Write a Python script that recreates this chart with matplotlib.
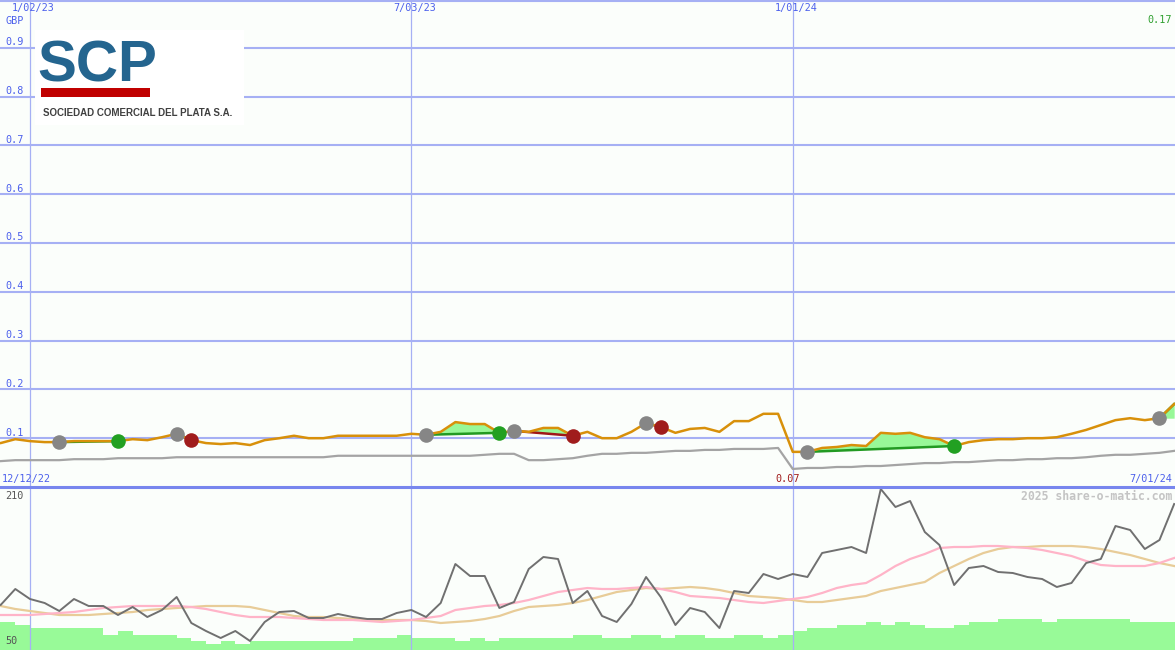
import matplotlib
matplotlib.use("Agg")
import matplotlib.pyplot as plt
import matplotlib.dates as mdates
from matplotlib.patches import Rectangle
from matplotlib.lines import Line2D
import numpy as np
import pandas as pd

W, H = 1175, 650

# weekly data, 12/12/22 .. 7/01/24
weeks = pd.date_range("2022-12-12", periods=82, freq="7D")

price = [0.090, 0.090, 0.098, 0.094, 0.092, 0.092, 0.094, 0.094, 0.094, 0.094,
         0.098, 0.096, 0.102, 0.109, 0.096, 0.090, 0.088, 0.090, 0.086, 0.096,
         0.100, 0.105, 0.100, 0.100, 0.105, 0.105, 0.105, 0.105, 0.105, 0.109,
         0.107, 0.113, 0.133, 0.129, 0.129, 0.111, 0.115, 0.113, 0.121, 0.121,
         0.105, 0.113, 0.100, 0.100, 0.113, 0.131, 0.123, 0.111, 0.119, 0.121,
         0.113, 0.135, 0.135, 0.150, 0.150, 0.072, 0.072, 0.080, 0.082, 0.086,
         0.084, 0.111, 0.109, 0.111, 0.102, 0.098, 0.084, 0.092, 0.096, 0.098,
         0.098, 0.100, 0.100, 0.102, 0.109, 0.117, 0.127, 0.137, 0.141, 0.137,
         0.141, 0.170]

avg = [0.051, 0.053, 0.055, 0.055, 0.055, 0.055, 0.057, 0.057, 0.057, 0.059,
       0.059, 0.059, 0.059, 0.061, 0.061, 0.061, 0.061, 0.061, 0.061, 0.061,
       0.061, 0.061, 0.061, 0.061, 0.064, 0.064, 0.064, 0.064, 0.064, 0.064,
       0.064, 0.064, 0.064, 0.064, 0.066, 0.068, 0.068, 0.055, 0.055, 0.057,
       0.059, 0.064, 0.068, 0.068, 0.070, 0.070, 0.072, 0.074, 0.074, 0.076,
       0.076, 0.078, 0.078, 0.078, 0.080, 0.037, 0.039, 0.039, 0.041, 0.041,
       0.043, 0.043, 0.045, 0.047, 0.049, 0.049, 0.051, 0.051, 0.053, 0.055,
       0.055, 0.057, 0.057, 0.059, 0.059, 0.061, 0.064, 0.066, 0.066, 0.068,
       0.070, 0.074]

osc = [99, 94, 110, 100, 96, 88, 100, 93, 93, 84, 92, 82, 89, 102, 76, 68, 61,
       68, 58, 77, 87, 88, 81, 81, 85, 82, 80, 80, 86, 89, 82, 96, 135, 123,
       123, 91, 97, 130, 142, 140, 96, 108, 83, 77, 95, 122, 102, 74, 91, 87,
       71, 108, 106, 125, 120, 125, 122, 146, 149, 152, 146, 210, 192, 198, 167,
       154, 114, 131, 133, 127, 126, 122, 120, 112, 116, 136, 140, 173, 169,
       150, 159, 195]

osc_fast = [84, 84, 84, 84, 85, 86, 87, 89, 91, 92, 93, 93, 93, 93, 92, 90, 87,
            84, 82, 82, 82, 81, 80, 79, 79, 79, 78, 77, 78, 79, 81, 83, 89, 91,
            93, 94, 96, 99, 103, 107, 109, 111, 110, 110, 111, 112, 110, 107,
            103, 102, 101, 99, 97, 96, 98, 100, 102, 106, 111, 114, 116, 124,
            133, 140, 145, 151, 152, 152, 153, 153, 152, 151, 149, 146, 143,
            138, 134, 133, 133, 133, 136, 141]

osc_slow = [96, 93, 90, 88, 86, 84, 84, 84, 85, 86, 87, 89, 90, 91, 92, 93, 93,
            93, 92, 89, 86, 83, 82, 82, 81, 80, 79, 79, 79, 79, 78, 76, 77, 78,
            80, 83, 88, 92, 93, 94, 96, 99, 103, 107, 109, 111, 110, 111, 112,
            111, 109, 106, 103, 102, 101, 99, 97, 97, 99, 101, 103, 108, 111,
            114, 117, 126, 133, 140, 146, 150, 152, 152, 153, 153, 153, 152, 150,
            147, 144, 140, 136, 133]

volume = [28, 28, 25, 22, 22, 22, 22, 22, 15, 19, 15, 15, 15, 12, 9, 6, 9, 6,
          9, 9, 9, 9, 9, 9, 9, 12, 12, 12, 15, 12, 12, 12, 9, 12, 9, 12, 12, 12,
          12, 12, 15, 15, 12, 12, 15, 15, 12, 15, 15, 12, 12, 15, 15, 12, 15, 19,
          22, 22, 25, 25, 28, 25, 28, 25, 22, 22, 25, 28, 28, 31, 31, 31, 28, 31,
          31, 31, 31, 31, 28, 28, 28, 28]

trade_entry = ["2023-01-16", "2023-03-13", "2023-07-10", "2023-08-21",
               "2023-10-23", "2024-01-08", "2024-06-24"]
trade_exit = ["2023-02-13", "2023-03-20", "2023-08-14", "2023-09-18",
              "2023-10-30", "2024-03-18", None]

grid_dates = ["2023-01-02", "2023-07-03", "2024-01-01"]
grid_labels = ["1/02/23", "7/03/23", "1/01/24"]

BG = "#fbfefb"
GRID = "#a6b0f4"
BLUE = "#4c60ec"
MONO = "DejaVu Sans Mono"


def fx(x):
    return x / W


def fy(y):
    return 1 - y / H


x = mdates.date2num(weeks.to_pydatetime())
p = np.array(price)
x0 = mdates.date2num(pd.Timestamp("2023-01-02"))
xlim = (x0 - 14.3, x0 + 546.4)

fig = plt.figure(figsize=(W / 100, H / 100), dpi=100, facecolor=BG)
ax = fig.add_axes([0, fy(487), 1, 487 / H])
axb = fig.add_axes([0, 0, 1, 163 / H])
for a in (ax, axb):
    a.set_axis_off()
    a.set_xlim(*xlim)
ax.set_ylim(0, 487 / 488)
axb.set_ylim(49, 212)

# price panel grid
for v in np.arange(0.1, 0.95, 0.1):
    ax.axhline(v, color=GRID, lw=1.5, zorder=1)
    ax.text(fx(5), v + 5.5 / 488, "%.1f" % v, transform=ax.get_yaxis_transform(),
            color=BLUE, fontsize=7.3, family=MONO, va="center", ha="left")
for d in grid_dates:
    ax.axvline(mdates.date2num(pd.Timestamp(d)), color=GRID, lw=0.9, zorder=1)
    axb.axvline(mdates.date2num(pd.Timestamp(d)), color=GRID, lw=0.9, zorder=1)

ax.plot(x, avg, color="#a4a4a4", lw=1.6, zorder=3)

# trades
for e, ex in zip(trade_entry, trade_exit):
    i0 = weeks.get_loc(pd.Timestamp(e))
    i1 = len(weeks) - 1 if ex is None else weeks.get_loc(pd.Timestamp(ex))
    xs = x[i0:i1 + 1]
    ps = p[i0:i1 + 1]
    if ex is None:
        ref = np.full(len(xs), p[i0])
    else:
        ref = np.interp(xs, [xs[0], xs[-1]], [p[i0], p[i1]])
    ax.fill_between(xs, ps, ref, where=ps >= ref, interpolate=True,
                    color="#98f898", lw=0, zorder=2)
    ax.fill_between(xs, ps, ref, where=ps < ref, interpolate=True,
                    color="#ffb8c8", lw=0, zorder=2)
    win = p[i1] >= p[i0]
    ax.plot([xs[0], xs[-1]], [p[i0], p[i1]],
            color="#229a22" if win else "#a01818", lw=1.8, zorder=4)
    ax.plot(xs[0], p[i0], "o", color="#868686", ms=10.5, mew=0, zorder=6)
    if ex is not None:
        ax.plot(xs[-1], p[i1], "o", color="#22a022" if win else "#a01c1c",
                ms=10.5, mew=0, zorder=6)

ax.plot(x, price, color="#d8900a", lw=1.8, zorder=5)

# lower panel
axv = axb.twinx()
axv.set_axis_off()
axv.set_ylim(0, 163)
axv.bar(x, volume, width=7, align="edge", color="#98fa98", lw=0, zorder=1)
axv.set_zorder(axb.get_zorder() - 1)
axb.patch.set_visible(False)
axb.plot(x, osc_slow, color="#e8cc98", lw=1.6, zorder=3)
axb.plot(x, osc_fast, color="#ffb4c8", lw=1.6, zorder=3)
axb.plot(x, osc, color="#707070", lw=1.4, zorder=4)

# frame lines
fig.add_artist(Line2D([0, 1], [fy(0.5), fy(0.5)], transform=fig.transFigure,
                      color=GRID, lw=1.5))
fig.add_artist(Line2D([0, 1], [fy(487), fy(487)], transform=fig.transFigure,
                      color="#7886ee", lw=2.2))

# labels
txt = dict(family=MONO, fontsize=7.3, va="center")
fig.text(fx(5), fy(21), "GBP", color=BLUE, ha="left", **txt)
for d, lab in zip(grid_dates, grid_labels):
    xd = (mdates.date2num(pd.Timestamp(d)) - xlim[0]) / (xlim[1] - xlim[0])
    fig.text(xd + fx(3), fy(8), lab, color=BLUE, ha="center", **txt)
fig.text(fx(2), fy(479), "12/12/22", color=BLUE, ha="left", **txt)
fig.text(fx(1172), fy(479), "7/01/24", color=BLUE, ha="right", **txt)
fig.text(fx(1172), fy(20), "0.17", color="#30a030", ha="right", **txt)
fig.text(fx(788), fy(479), "0.07", color="#a01c1c", ha="center", **txt)
fig.text(fx(5), fy(496), "210", color="#555555", ha="left", **txt)
fig.text(fx(5), fy(641), "50", color="#555555", ha="left", **txt)
fig.text(fx(1172), fy(496), "2025 share-o-matic.com", color="#c4c4c4",
         ha="right", family=MONO, fontsize=8.3, weight="bold", va="center")

# logo
fig.add_artist(Rectangle((fx(35), fy(125)), fx(209), 95 / H,
                         transform=fig.transFigure, color="white", lw=0, zorder=5))
fig.text(fx(37), fy(82), "SCP", color="#24658f", family="Liberation Sans",
         weight="bold", fontsize=42, va="baseline", ha="left", zorder=6)
fig.add_artist(Rectangle((fx(41), fy(97)), fx(109), 9 / H,
                         transform=fig.transFigure, color="#c00000", lw=0, zorder=6))
fig.text(fx(43), fy(113), "SOCIEDAD COMERCIAL DEL PLATA S.A.", color="#404040",
         family="Liberation Sans", weight="bold", fontsize=7, va="center",
         ha="left", zorder=6)

fig.savefig("out.png", dpi=100, facecolor=BG)
